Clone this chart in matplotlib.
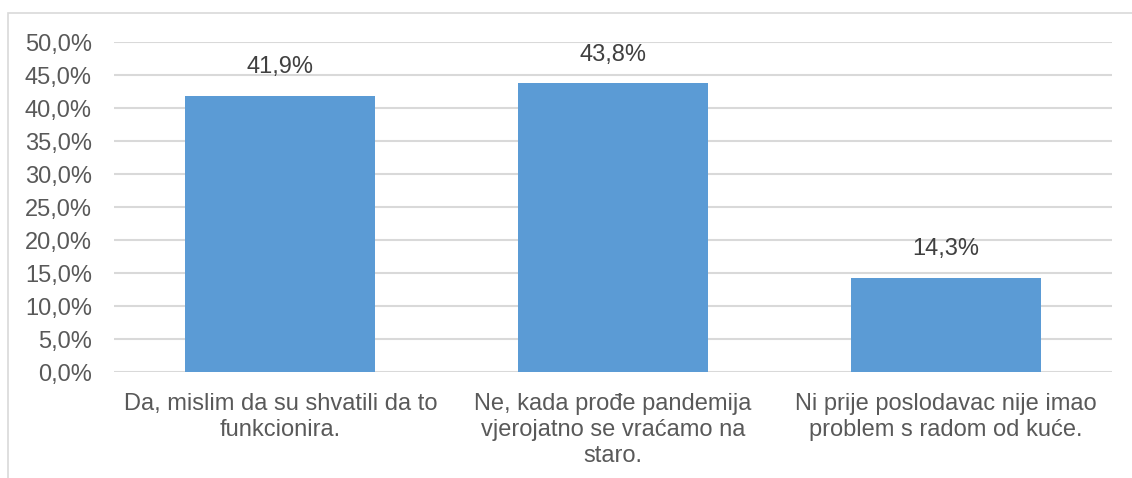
import matplotlib
matplotlib.use("Agg")
import matplotlib.pyplot as plt
from matplotlib.patches import Rectangle
from matplotlib.ticker import FuncFormatter

categories = ["Da, mislim da su shvatili da to\nfunkcionira.",
              "Ne, kada prođe pandemija\nvjerojatno se vraćamo na\nstaro.",
              "Ni prije poslodavac nije imao\nproblem s radom od kuće."]
values = [41.9, 43.8, 14.3]
yticks = [0, 5, 10, 15, 20, 25, 30, 35, 40, 45, 50]

plt.rcParams['font.family'] = ['Liberation Sans', 'DejaVu Sans']
text_color = '#595959'
W, H = 1132, 478
fig = plt.figure(figsize=(W / 100, H / 100), dpi=100)
ax = fig.add_axes([114 / W, 1 - 372.3 / H, (1112 - 114) / W, (372.3 - 42) / H])

x = list(range(len(categories)))
ax.bar(x, values, width=0.571, color='#5B9BD5', zorder=3)
for xi, v in zip(x, values):
    ax.annotate(f"{v:.1f}%".replace('.', ','), (xi, v), xytext=(0, 12.5),
                textcoords='offset points', ha='center', va='bottom',
                fontsize=17, color='#404040')

ax.set_xlim(-0.5, 2.5)
ax.set_ylim(0, 50)
ax.set_yticks(yticks)
ax.yaxis.set_major_formatter(FuncFormatter(lambda v, p: f"{v:.1f}%".replace('.', ',')))
ax.set_xticks(x)
ax.set_xticklabels(categories, fontsize=17, color=text_color, linespacing=1.24)
ax.tick_params(axis='y', length=0, pad=16, labelsize=17, labelcolor=text_color)
ax.tick_params(axis='x', length=0, pad=15)
ax.grid(axis='y', color='#D9D9D9', linewidth=1.5, zorder=0)
for s in ax.spines.values():
    s.set_visible(False)

fig.patches.append(Rectangle((8 / W, -0.1), 1.2, 1 - 13 / H + 0.1, transform=fig.transFigure,
                             fill=False, edgecolor='#D9D9D9', linewidth=1.2))
fig.savefig('out.png', dpi=100, facecolor='white')
